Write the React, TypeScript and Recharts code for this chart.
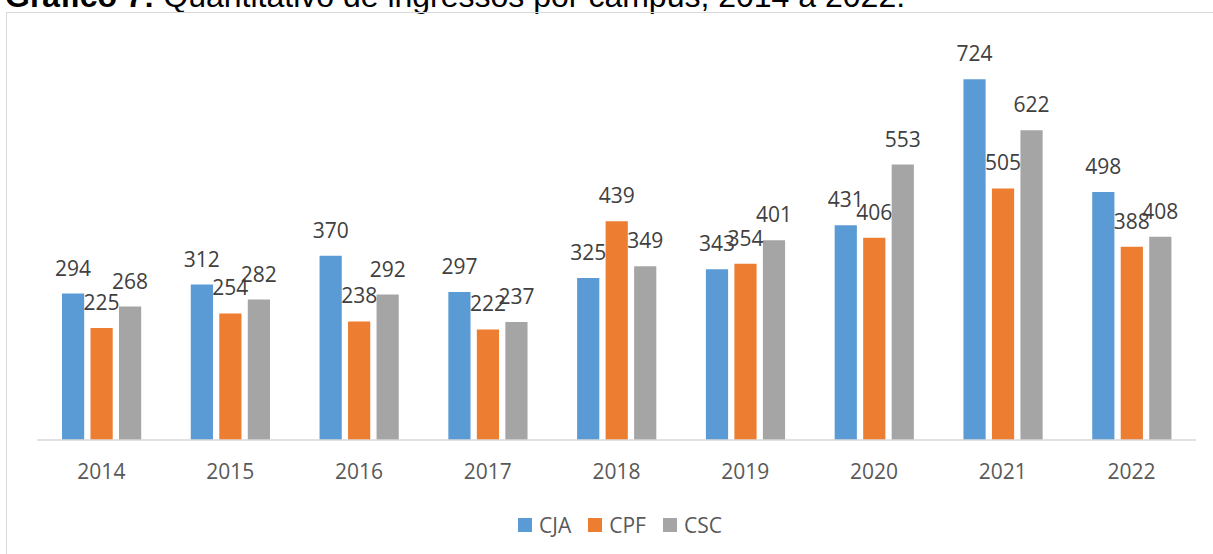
import { BarChart, Bar, XAxis, YAxis, LabelList, Legend } from 'recharts';

const years = ['2014', '2015', '2016', '2017', '2018', '2019', '2020', '2021', '2022'];
const cja = [294, 312, 370, 297, 325, 343, 431, 724, 498];
const cpf = [225, 254, 238, 222, 439, 354, 406, 505, 388];
const csc = [268, 282, 292, 237, 349, 401, 553, 622, 408];

const series = [
  { key: 'CJA', color: '#5B9BD5' },
  { key: 'CPF', color: '#ED7D31' },
  { key: 'CSC', color: '#A5A5A5' }
];

const data = years.map((year, i) => ({ year, CJA: cja[i], CPF: cpf[i], CSC: csc[i] }));

const font = '"Open Sans", sans-serif';

function LegendContent(props: any) {
  const items = props.payload || [];
  return (
    <div
      style={{
        height: 74,
        boxSizing: 'border-box',
        paddingTop: 34,
        paddingLeft: 7,
        display: 'flex',
        justifyContent: 'center',
        alignItems: 'flex-start'
      }}
    >
      {items.map((item: any, i: number) => (
        <div
          key={item.value}
          style={{ display: 'flex', alignItems: 'center', height: 22, marginRight: i < items.length - 1 ? 17 : 0 }}
        >
          <span style={{ display: 'inline-block', width: 14, height: 14, background: item.color, marginRight: 7 }} />
          <span style={{ fontSize: 21, color: '#595959', lineHeight: '22px', fontFamily: font }}>{item.value}</span>
        </div>
      ))}
    </div>
  );
}

export default function App() {
  return (
    <div
      style={{
        position: 'fixed',
        left: 0,
        top: 0,
        width: 1213,
        height: 554,
        overflow: 'hidden',
        background: '#fff',
        fontFamily: font
      }}
    >
      <div
        style={{
          position: 'absolute',
          left: 5,
          top: -20,
          fontFamily: '"Liberation Sans", Arial, sans-serif',
          fontSize: 32,
          lineHeight: '32px',
          color: '#000',
          whiteSpace: 'nowrap'
        }}
      >
        <b>Gráfico 7:</b> Quantitativo de ingressos por campus, 2014 a 2022.
      </div>
      <div
        style={{
          position: 'absolute',
          left: 6,
          top: 12,
          width: 1400,
          height: 800,
          border: '1px solid #d9d9d9'
        }}
      />
      <div style={{ position: 'absolute', left: 0, top: 0 }}>
        <BarChart
          width={1213}
          height={554}
          data={data}
          margin={{ top: 41.5, right: 17, bottom: 0, left: 37 }}
          barGap={6.3}
          barSize={22.2}
        >
          <XAxis
            dataKey="year"
            tickLine={false}
            axisLine={{ stroke: '#d9d9d9', strokeWidth: 1.5 }}
            tick={{ fill: '#595959', fontSize: 21, fontFamily: font }}
            tickMargin={18}
            height={40}
            interval={0}
          />
          <YAxis hide domain={[0, 800]} />
          <Legend verticalAlign="bottom" content={<LegendContent />} />
          {series.map((s) => (
            <Bar key={s.key} dataKey={s.key} fill={s.color} isAnimationActive={false}>
              <LabelList
                dataKey={s.key}
                position="top"
                offset={18}
                fill="#404040"
                fontSize={21}
                fontFamily={font}
              />
            </Bar>
          ))}
        </BarChart>
      </div>
    </div>
  );
}
